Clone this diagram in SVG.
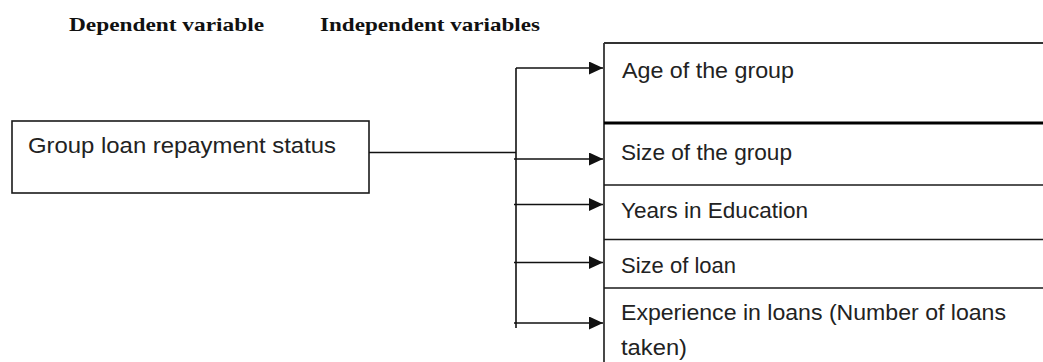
<svg xmlns="http://www.w3.org/2000/svg" width="1043" height="362" viewBox="0 0 1043 362">
<style>
.hdr{font-family:"Liberation Serif","Times New Roman",serif;font-weight:bold;font-size:19.5px;fill:#111}
.lbl{font-family:"Liberation Sans",Arial,sans-serif;font-size:22px;fill:#222}
.box{fill:#fff;stroke:#1a1a1a;stroke-width:1.6}
.div{stroke:#1a1a1a;stroke-width:1.6;fill:none}
.con{stroke:#111;stroke-width:1.6;fill:none}
</style>
<defs>
<marker id="ah" markerWidth="14" markerHeight="13" refX="14" refY="6.5" orient="auto" markerUnits="userSpaceOnUse">
<path d="M0,0 L14,6.5 L0,13 z" fill="#111"/>
</marker>
</defs>
<rect width="1043" height="362" fill="#fff"/>
<g id="headers">
<text class="hdr" x="69" y="31" textLength="195" lengthAdjust="spacingAndGlyphs">Dependent variable</text>
<text class="hdr" x="320" y="31" textLength="220" lengthAdjust="spacingAndGlyphs">Independent variables</text>
</g>
<g id="dependent">
<rect class="box" x="12" y="121" width="357" height="72"/>
<text class="lbl" x="28" y="153" textLength="308" lengthAdjust="spacingAndGlyphs">Group loan repayment status</text>
</g>
<g id="independent-frame">
<line class="div" x1="604" y1="43" x2="604" y2="362"/>
<line x1="604" y1="43" x2="1043" y2="43" stroke="#333" stroke-width="2.2"/>
</g>
<g id="age">
<line x1="604" y1="123" x2="1043" y2="123" stroke="#000" stroke-width="3"/>
<text class="lbl" x="622" y="78" textLength="172" lengthAdjust="spacingAndGlyphs">Age of the group</text>
</g>
<g id="size-group">
<line class="div" x1="604" y1="185" x2="1043" y2="185"/>
<text class="lbl" x="621" y="160" textLength="171" lengthAdjust="spacingAndGlyphs">Size of the group</text>
</g>
<g id="education">
<line class="div" x1="604" y1="239.5" x2="1043" y2="239.5"/>
<text class="lbl" x="621" y="218" textLength="187" lengthAdjust="spacingAndGlyphs">Years in Education</text>
</g>
<g id="size-loan">
<line class="div" x1="604" y1="288" x2="1043" y2="288"/>
<text class="lbl" x="621" y="273" textLength="115" lengthAdjust="spacingAndGlyphs">Size of loan</text>
</g>
<g id="experience">
<text class="lbl" x="621" y="320" textLength="385" lengthAdjust="spacingAndGlyphs">Experience in loans (Number of loans</text>
<text class="lbl" x="621" y="355" textLength="66" lengthAdjust="spacingAndGlyphs">taken)</text>
</g>
<g id="connectors">
<line class="con" x1="369" y1="152.5" x2="516" y2="152.5"/>
<line class="con" x1="516" y1="68" x2="516" y2="328"/>
<line class="con" x1="516" y1="68" x2="603" y2="68" marker-end="url(#ah)"/>
<line class="con" x1="514" y1="159" x2="603" y2="159" marker-end="url(#ah)"/>
<line class="con" x1="514" y1="204.5" x2="603" y2="204.5" marker-end="url(#ah)"/>
<line class="con" x1="514" y1="262.5" x2="603" y2="262.5" marker-end="url(#ah)"/>
<line class="con" x1="514" y1="323" x2="603" y2="323" marker-end="url(#ah)"/>
</g>
</svg>
